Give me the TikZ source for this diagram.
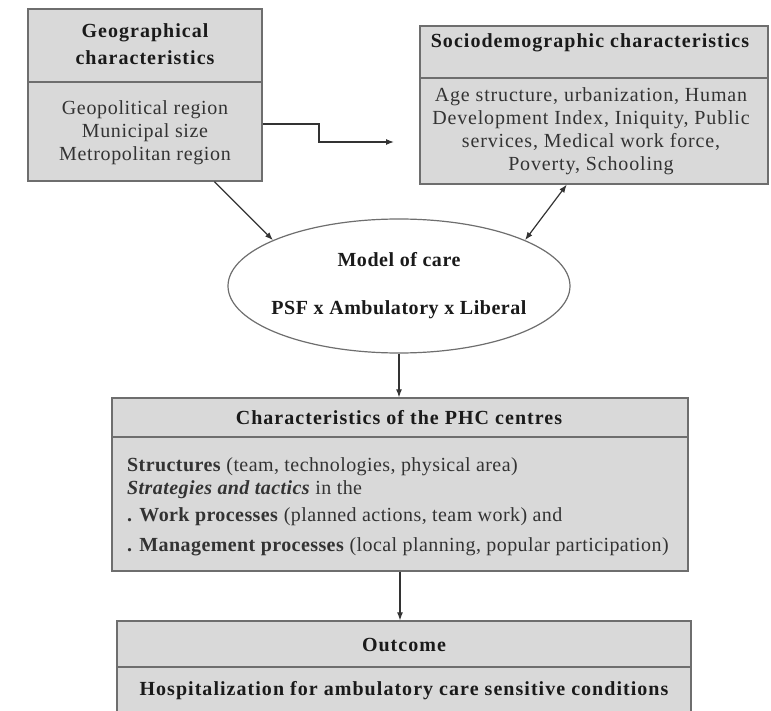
\documentclass[tikz,border=0pt]{standalone}
\usepackage{fontspec}
\setmainfont{Liberation Serif}
% tracked variants of the serif face, one per text block
\newfontfamily\geobodyfont[LetterSpace=3.3]{Liberation Serif}
\newfontfamily\socbodyfont[LetterSpace=4.2]{Liberation Serif}
\newfontfamily\phcbodyfont[LetterSpace=2.1]{Liberation Serif}
\newfontfamily\headfont[LetterSpace=5.2]{Liberation Serif}
\newfontfamily\carefont[LetterSpace=2.8]{Liberation Serif}
\usetikzlibrary{shapes.geometric,arrows.meta,calc}

\definecolor{boxfill}{HTML}{D9D9D9}
\definecolor{boxedge}{HTML}{6E6E6E}
\definecolor{inkdark}{HTML}{1A1A1A}
\definecolor{inkbody}{HTML}{333333}

\tikzset{
  panel/.style={draw=boxedge, fill=boxfill, line width=1.3pt, rectangle, inner sep=0pt},
  divider/.style={draw=boxedge, line width=1.3pt},
  head/.style={font=\headfont\fontsize{20}{27}\selectfont\bfseries, text=inkdark, align=center, inner sep=0pt},
  carehead/.style={font=\carefont\fontsize{20}{27}\selectfont\bfseries, text=inkdark, align=center, inner sep=0pt},
  geobody/.style={font=\geobodyfont\fontsize{20}{23}\selectfont, text=inkbody, align=center, inner sep=0pt},
  socbody/.style={font=\socbodyfont\fontsize{20}{23}\selectfont, text=inkbody, align=center, inner sep=0pt},
  line/.style={anchor=west, font=\phcbodyfont\fontsize{20}{23}\selectfont, text=inkbody, inner sep=0pt},
  link/.style={draw=inkbody, line width=1.2pt, -{Latex[length=8pt,width=6pt]}},
  duallink/.style={draw=inkbody, line width=1.2pt, {Latex[length=8pt,width=6pt]}-{Latex[length=8pt,width=6pt]}},
  carenode/.style={ellipse, draw=boxedge, fill=white, line width=1.2pt, inner sep=0pt}
}

\begin{document}
\begin{tikzpicture}[x=1pt, y=-1pt]
\useasboundingbox (0,0) rectangle (771,711);
\clip (0,0) rectangle (771,711);

% Geographical characteristics
\node[panel, minimum width=234pt, minimum height=172pt] (geo) at (145,95) {};
\draw[divider] (geo.west |- 0,82) -- (geo.east |- 0,82);
\node[head] (geoT) at (145,44.5) {Geographical\\characteristics};
\node[geobody] (geoB) at (145,133) {Geopolitical region\\Municipal size\\Metropolitan region};

% Sociodemographic characteristics
\node[panel, minimum width=348pt, minimum height=158pt] (soc) at (594,105) {};
\draw[divider] (soc.west |- 0,78) -- (soc.east |- 0,78);
\node[head] (socT) at (590,43) {Sociodemographic characteristics};
\node[socbody] (socB) at (591,131.5) {Age structure, urbanization, Human\\Development Index, Iniquity, Public\\services, Medical work force,\\Poverty, Schooling};

% Model of care
\node[carenode, minimum width=342pt, minimum height=134pt] (care) at (399,286) {};
\node[carehead] (careA) at (399,260) {Model of care};
\node[carehead] (careB) at (399,310) {PSF x Ambulatory x Liberal};

% Characteristics of the PHC centres
\node[panel, minimum width=576pt, minimum height=173pt] (phc) at (400,484.5) {};
\draw[divider] (phc.west |- 0,437) -- (phc.east |- 0,437);
\node[head] (phcT) at (399,418) {Characteristics of the PHC centres};
\node[line] (phc1) at (127,467) {\textbf{Structures} (team, technologies, physical area)};
\node[line] (phc2) at (127,490) {\textbf{\itshape Strategies and tactics} in the};
\node[line] (phc3) at (127,517) {\textbf{. Work processes} (planned actions, team work) and};
\node[line] (phc4) at (127,547) {\textbf{. Management processes} (local planning, popular participation)};

% Outcome
\node[panel, minimum width=574pt, minimum height=140pt] (out) at (404,691) {};
\draw[divider] (out.west |- 0,667) -- (out.east |- 0,667);
\node[head] (outT) at (404,645) {Outcome};
\node[head] (outB) at (404,691) {Hospitalization for ambulatory care sensitive conditions};

% Connectors
\coordinate (elbowEnd) at (394,142);
\draw[link] ([yshift=-29pt]geo.east) -| (319,142) -- (elbowEnd);
\draw[link] ($(geo.south west)!0.795!(geo.south east)$) -- (care.160);
\draw[duallink] ($(soc.south west)!0.422!(soc.south east)$) -- (care.20);
\draw[link] (care.south) -- (care.south |- phc.north);
\draw[link] (phc.south) -- (phc.south |- out.north);
\end{tikzpicture}
\end{document}
